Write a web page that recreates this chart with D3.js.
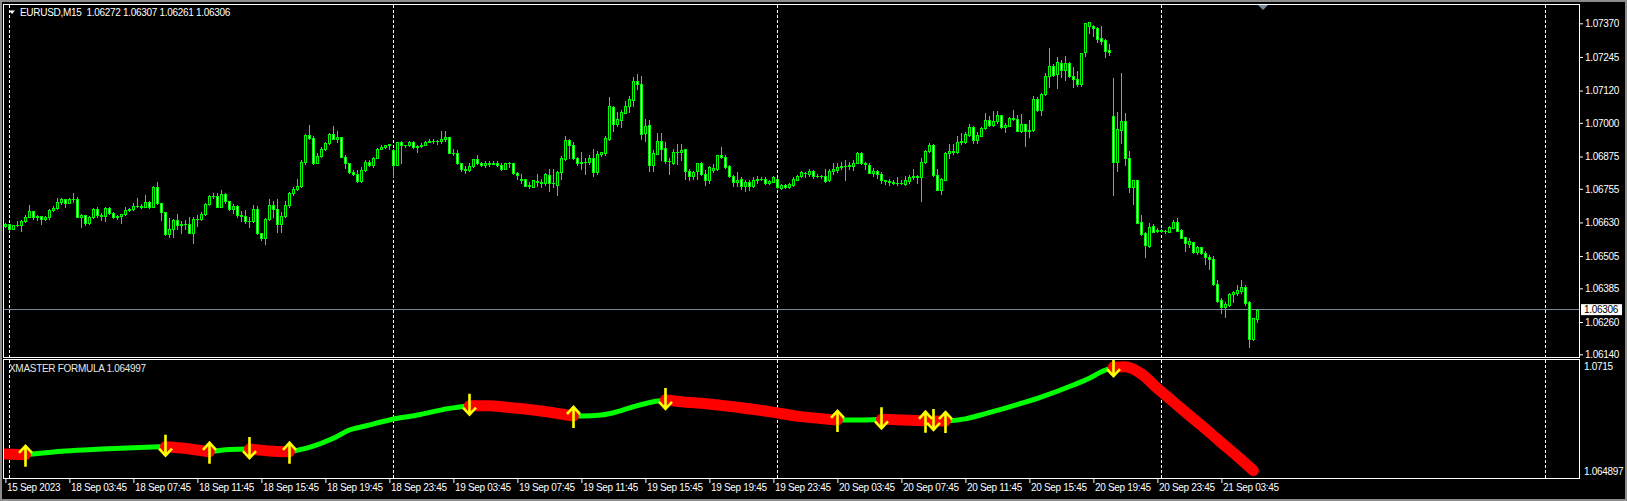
<!DOCTYPE html>
<html>
<head>
<meta charset="utf-8">
<script src="https://cdn.jsdelivr.net/npm/d3@7"></script>
<style>
  html, body { margin: 0; padding: 0; background: #000; overflow: hidden; }
  svg { display: block; }
  text { font-family: "Liberation Sans", Arial, sans-serif; font-size: 10px; letter-spacing: -0.3px; }
</style>
</head>
<body>
<div id="chart"></div>
<script>
// ---- data ----
const symbol = 'EURUSD,M15'
const base = 1.06 // candle values are pips above this level

const opens = [
  61.7, 62.4, 60.7, 61.9, 62.2, 63.4, 65.1, 67.1, 64.9, 65.3,
  64.2, 65.0, 67.5, 68.4, 70.6, 71.6, 70.4, 71.6, 71.6, 65.1,
  65.6, 62.7, 64.9, 68.1, 65.6, 65.5, 68.2, 66.6, 64.9, 65.3,
  66.0, 67.5, 68.0, 69.1, 69.2, 68.9, 70.5, 68.9, 76.0, 70.1,
  66.7, 58.6, 60.4, 63.9, 62.2, 62.4, 62.4, 59.2, 64.2, 64.3,
  66.1, 69.9, 72.7, 72.8, 68.9, 73.4, 70.8, 68.1, 69.2, 65.6,
  65.3, 63.4, 63.7, 67.9, 59.0, 57.2, 64.2, 69.4, 68.1, 62.4,
  65.4, 69.4, 73.8, 75.4, 76.4, 85.3, 95.4, 94.4, 85.0, 87.7,
  90.2, 92.6, 95.9, 94.1, 94.6, 87.4, 85.0, 81.9, 80.9, 78.5,
  82.5, 85.5, 84.2, 86.8, 90.3, 90.9, 91.6, 89.9, 84.5, 92.8,
  91.6, 91.6, 93.0, 90.9, 91.5, 91.9, 93.0, 93.4, 93.1, 93.4,
  94.1, 94.6, 88.9, 88.7, 85.0, 82.7, 82.5, 84.0, 86.4, 85.2,
  84.5, 85.2, 84.7, 85.2, 84.5, 82.7, 85.0, 85.0, 81.2, 78.7,
  79.1, 76.7, 76.3, 78.3, 77.9, 77.6, 80.8, 77.6, 77.0, 81.6,
  86.5, 93.7, 91.6, 86.9, 85.2, 85.6, 85.4, 86.8, 81.6, 88.6,
  88.8, 93.9, 106.0, 99.6, 101.1, 103.8, 106.1, 108.5, 115.4, 114.4,
  96.2, 99.3, 84.3, 88.6, 93.3, 90.7, 86.0, 85.2, 89.1, 89.3,
  90.3, 82.2, 80.1, 82.2, 85.0, 81.0, 78.8, 82.4, 82.8, 88.0,
  87.5, 84.0, 80.4, 78.2, 79.2, 76.4, 77.9, 76.5, 78.7, 79.1,
  79.2, 77.6, 78.2, 79.2, 75.9, 77.0, 76.0, 77.0, 78.8, 80.1,
  81.5, 80.9, 82.0, 80.2, 80.4, 80.1, 78.6, 82.2, 82.4, 83.7,
  84.1, 84.0, 84.0, 85.2, 88.8, 85.2, 84.5, 81.5, 82.2, 81.1,
  78.6, 78.5, 78.1, 77.8, 77.6, 77.3, 78.3, 79.9, 80.1, 79.9,
  85.5, 89.5, 91.9, 80.5, 75.2, 78.8, 88.8, 89.7, 89.2, 92.9,
  92.9, 95.6, 98.4, 93.7, 95.2, 98.0, 101.0, 99.3, 100.6, 102.9,
  98.3, 99.0, 101.9, 101.4, 96.9, 99.6, 97.1, 97.3, 109.0, 104.8,
  110.6, 117.4, 121.3, 118.0, 122.1, 119.6, 122.4, 117.4, 116.2, 114.4,
  126.2, 136.1, 136.0, 135.4, 131.4, 130.8, 127.1, 102.6, 85.6, 97.4,
  100.7, 86.8, 76.3, 78.8, 63.0, 59.2, 54.2, 61.7, 59.8, 60.2,
  59.9, 59.6, 61.1, 63.3, 60.2, 57.5, 54.9, 55.6, 52.1, 53.7,
  51.5, 50.3, 49.3, 40.1, 34.2, 31.4, 32.3, 36.4, 36.7, 37.6,
  39.1, 33.4, 19.7, 27.2
]
const highs = [
  62.9, 62.4, 62.2, 63.5, 63.9, 65.6, 69.5, 67.4, 65.8, 65.4,
  65.5, 67.9, 69.2, 72.0, 72.1, 71.8, 72.2, 74.0, 72.3, 66.3,
  65.8, 65.4, 68.4, 68.7, 66.5, 68.6, 68.6, 66.9, 65.9, 66.3,
  68.7, 68.5, 70.2, 72.0, 69.7, 73.2, 71.0, 76.4, 78.0, 70.3,
  67.0, 64.5, 64.3, 66.1, 63.7, 63.9, 64.9, 65.1, 65.9, 66.9,
  70.4, 73.2, 74.1, 73.8, 74.9, 73.8, 71.1, 69.9, 69.5, 67.4,
  67.6, 64.9, 69.5, 69.1, 59.2, 64.5, 71.6, 71.1, 71.6, 67.0,
  71.1, 74.4, 76.0, 79.0, 86.1, 95.9, 99.3, 95.1, 88.7, 91.2,
  92.9, 96.2, 98.8, 97.0, 94.8, 88.0, 85.2, 82.5, 82.5, 83.7,
  86.2, 86.2, 87.2, 90.7, 91.9, 91.9, 92.1, 90.2, 93.0, 93.4,
  91.9, 93.3, 93.1, 91.9, 92.6, 93.3, 94.1, 94.1, 93.6, 96.9,
  96.9, 94.8, 90.2, 90.0, 85.2, 84.0, 85.0, 86.7, 88.1, 85.6,
  85.7, 85.7, 86.0, 85.8, 85.0, 85.2, 85.5, 85.2, 81.7, 81.1,
  79.3, 77.9, 78.8, 80.9, 79.2, 81.4, 82.7, 83.0, 82.2, 87.8,
  95.0, 93.9, 92.9, 87.5, 89.1, 86.8, 88.2, 90.3, 89.5, 89.3,
  95.2, 109.5, 106.1, 103.9, 104.8, 108.0, 109.9, 117.2, 118.2, 117.6,
  101.6, 101.2, 90.1, 96.1, 96.1, 92.9, 87.1, 90.3, 92.3, 92.3,
  90.3, 82.7, 82.0, 85.2, 85.5, 82.4, 84.0, 84.7, 88.2, 91.1,
  88.2, 84.2, 80.8, 81.8, 79.9, 78.8, 78.6, 79.9, 80.1, 79.9,
  79.9, 78.7, 80.1, 79.5, 77.3, 77.3, 77.6, 79.9, 80.5, 82.0,
  81.6, 82.7, 82.4, 81.1, 80.8, 82.7, 82.7, 85.0, 85.2, 85.4,
  86.3, 85.6, 86.3, 89.1, 89.1, 85.4, 85.0, 83.1, 82.4, 81.8,
  78.8, 79.2, 78.6, 79.9, 78.6, 80.4, 80.8, 82.9, 80.5, 86.9,
  89.8, 92.6, 92.3, 83.0, 79.5, 89.1, 92.3, 92.3, 95.0, 96.2,
  96.5, 99.6, 98.7, 96.5, 98.4, 103.5, 102.5, 104.4, 104.4, 103.1,
  99.8, 102.1, 104.8, 103.1, 103.4, 99.7, 101.0, 109.9, 109.5, 111.0,
  118.7, 127.9, 121.7, 124.6, 123.4, 125.0, 122.7, 120.9, 119.3, 126.1,
  137.0, 137.6, 136.4, 135.6, 136.0, 131.0, 129.3, 116.7, 104.2, 118.7,
  103.8, 89.7, 78.8, 78.8, 65.8, 59.6, 62.9, 62.4, 60.8, 60.4,
  60.2, 61.5, 63.9, 64.5, 60.4, 57.7, 57.1, 55.9, 54.2, 54.0,
  52.5, 50.8, 50.5, 41.6, 34.8, 33.6, 36.9, 37.5, 39.8, 41.6,
  39.8, 33.8, 27.6, 30.7
]
const lows = [
  61.2, 60.2, 60.5, 61.7, 59.9, 63.2, 64.9, 64.3, 63.9, 62.5,
  64.0, 64.3, 67.2, 67.9, 69.8, 68.9, 70.4, 70.6, 64.9, 61.2,
  62.2, 62.3, 64.6, 64.9, 63.9, 63.7, 66.1, 64.6, 64.2, 62.9,
  65.8, 67.4, 67.6, 68.6, 68.2, 68.9, 68.5, 68.9, 69.7, 63.9,
  58.3, 57.7, 57.7, 60.6, 59.2, 60.4, 59.0, 55.5, 61.8, 63.9,
  65.8, 69.5, 72.0, 68.6, 68.9, 70.4, 67.6, 66.4, 65.1, 63.7,
  62.7, 61.4, 63.3, 58.7, 56.5, 54.9, 63.9, 65.1, 59.6, 59.6,
  65.1, 68.9, 73.2, 75.1, 76.0, 84.7, 93.9, 84.7, 85.0, 87.4,
  90.0, 92.0, 93.9, 92.9, 87.2, 83.1, 81.2, 80.5, 78.1, 78.1,
  82.2, 83.9, 83.5, 86.8, 90.2, 90.8, 90.4, 80.0, 84.2, 85.0,
  91.2, 91.4, 90.7, 89.0, 90.9, 91.6, 92.9, 92.4, 92.0, 92.4,
  93.1, 88.7, 88.2, 84.7, 82.2, 81.2, 82.1, 83.6, 84.7, 84.0,
  83.5, 84.0, 84.6, 84.0, 82.5, 82.7, 83.5, 80.9, 79.0, 77.6,
  76.4, 75.8, 76.0, 76.7, 76.3, 77.0, 74.7, 76.0, 73.2, 79.2,
  86.3, 86.9, 86.5, 84.5, 82.7, 81.1, 84.7, 80.1, 81.1, 87.8,
  88.2, 93.7, 97.1, 98.8, 98.4, 103.5, 103.9, 106.1, 112.5, 93.9,
  93.3, 82.2, 82.0, 88.3, 86.3, 85.0, 81.1, 84.7, 84.7, 86.3,
  79.0, 78.8, 79.0, 79.2, 80.5, 77.0, 77.7, 81.8, 82.4, 86.9,
  83.4, 79.9, 76.7, 76.5, 75.4, 74.7, 75.0, 76.0, 77.8, 78.6,
  77.3, 77.4, 77.9, 75.8, 75.4, 75.8, 75.8, 76.5, 78.6, 79.9,
  79.9, 80.4, 79.6, 79.9, 79.6, 78.1, 78.3, 81.1, 81.8, 82.7,
  78.8, 82.7, 82.4, 85.0, 84.7, 82.7, 81.4, 80.1, 79.6, 77.8,
  77.3, 77.0, 77.3, 77.0, 77.3, 77.0, 77.8, 79.2, 77.6, 70.9,
  85.0, 89.1, 80.1, 75.0, 73.5, 78.6, 86.9, 88.6, 88.8, 92.0,
  92.6, 95.2, 92.6, 92.4, 95.0, 97.8, 98.8, 98.8, 100.0, 98.0,
  96.5, 98.8, 101.0, 96.9, 96.5, 91.4, 94.6, 96.9, 104.4, 102.9,
  110.4, 113.5, 117.5, 113.1, 117.2, 115.9, 117.0, 113.5, 113.7, 113.8,
  125.0, 133.3, 132.4, 130.2, 129.3, 124.6, 125.2, 73.2, 82.2, 92.4,
  84.3, 74.4, 69.9, 62.7, 58.3, 50.3, 54.0, 59.3, 59.6, 59.6,
  59.2, 59.3, 60.9, 59.8, 57.1, 52.5, 53.8, 51.5, 51.3, 51.3,
  47.6, 45.6, 39.8, 33.6, 29.5, 27.7, 32.0, 33.6, 36.0, 36.6,
  32.3, 16.6, 19.4, 26.1
]
const closes = [
  62.4, 60.7, 61.9, 62.2, 63.4, 65.1, 67.1, 64.9, 65.3, 64.2,
  65.0, 67.5, 68.4, 70.6, 71.6, 70.4, 71.6, 71.6, 65.1, 65.6,
  62.7, 64.9, 68.1, 65.6, 65.5, 68.2, 66.6, 64.9, 65.3, 66.0,
  67.5, 68.0, 69.1, 69.2, 68.9, 70.5, 68.9, 76.0, 70.1, 66.7,
  58.6, 60.4, 63.9, 62.2, 62.4, 62.4, 59.2, 64.2, 64.3, 66.1,
  69.9, 72.7, 72.8, 68.9, 73.4, 70.8, 68.1, 69.2, 65.6, 65.3,
  63.4, 63.7, 67.9, 59.0, 57.2, 64.2, 69.4, 68.1, 62.4, 65.4,
  69.4, 73.8, 75.4, 76.4, 85.3, 95.4, 94.4, 85.0, 87.7, 90.2,
  92.6, 95.9, 94.1, 94.6, 87.4, 85.0, 81.9, 80.9, 78.5, 82.5,
  85.5, 84.2, 86.8, 90.3, 90.9, 91.6, 92.0, 84.3, 92.8, 91.6,
  91.6, 93.0, 90.9, 91.5, 91.9, 93.0, 93.4, 93.1, 93.4, 94.1,
  94.6, 88.9, 88.7, 85.0, 82.7, 82.5, 84.0, 86.4, 85.2, 84.5,
  85.2, 84.7, 85.2, 84.5, 82.7, 85.0, 85.0, 81.2, 80.7, 79.0,
  76.7, 76.9, 78.6, 77.9, 77.7, 81.1, 77.6, 77.8, 81.8, 86.8,
  93.7, 91.6, 86.9, 85.0, 85.6, 85.4, 86.8, 81.6, 88.6, 89.0,
  94.2, 106.1, 99.7, 101.4, 104.2, 106.3, 108.8, 115.7, 114.4, 95.9,
  99.0, 84.3, 88.8, 93.3, 90.3, 86.0, 85.7, 89.1, 89.3, 89.8,
  82.0, 80.1, 81.6, 85.0, 80.9, 78.8, 83.7, 83.4, 87.9, 87.3,
  83.7, 80.1, 78.2, 78.8, 76.4, 77.9, 76.7, 78.7, 79.1, 79.3,
  77.6, 78.5, 79.9, 76.0, 77.0, 76.0, 77.3, 79.2, 80.2, 81.6,
  81.3, 82.3, 80.1, 80.4, 80.1, 78.3, 82.2, 82.7, 83.7, 84.1,
  84.0, 84.2, 85.2, 88.8, 85.2, 84.7, 81.5, 82.2, 81.1, 78.6,
  78.5, 78.2, 77.8, 77.6, 77.7, 78.6, 79.9, 80.1, 80.0, 85.6,
  89.5, 91.9, 80.5, 75.2, 79.2, 88.8, 89.7, 89.2, 92.9, 93.2,
  95.9, 98.4, 93.7, 95.5, 98.0, 101.0, 99.3, 100.8, 102.9, 98.3,
  99.2, 101.9, 101.5, 97.1, 99.6, 97.1, 97.4, 109.0, 104.8, 110.6,
  117.4, 121.1, 117.8, 122.5, 119.5, 122.4, 117.4, 116.2, 114.4, 126.1,
  137.0, 137.4, 135.4, 131.2, 130.5, 126.8, 126.5, 85.6, 97.6, 100.7,
  87.1, 76.3, 78.8, 62.9, 58.7, 54.6, 61.2, 59.6, 60.2, 59.9,
  59.8, 61.2, 63.3, 59.9, 57.3, 55.2, 56.2, 52.1, 54.0, 51.5,
  50.0, 49.3, 40.0, 33.9, 31.4, 32.7, 36.4, 37.3, 37.9, 39.1,
  33.2, 19.7, 27.4, 30.6
]

const priceTicks = [1.07370, 1.07245, 1.07120, 1.07000, 1.06875, 1.06755, 1.06630, 1.06505, 1.06385, 1.06260, 1.06140]
const timeLabels = [
  '15 Sep 2023', '18 Sep 03:45', '18 Sep 07:45', '18 Sep 11:45', '18 Sep 15:45', '18 Sep 19:45', '18 Sep 23:45',
  '19 Sep 03:45', '19 Sep 07:45', '19 Sep 11:45', '19 Sep 15:45', '19 Sep 19:45', '19 Sep 23:45',
  '20 Sep 03:45', '20 Sep 07:45', '20 Sep 11:45', '20 Sep 15:45', '20 Sep 19:45', '20 Sep 23:45', '21 Sep 03:45'
]
const dayStartBars = [1, 97, 193, 289, 385]   // bar index of each midnight

// XMASTER FORMULA indicator (subwindow)
const formulaName = 'XMASTER FORMULA'
const formulaCurrent = 1.064997
const formulaMax = 1.0715
const formulaMin = 1.064897
const formulaBars = [0, 5, 15, 24, 32, 40, 44, 51, 56, 61, 66, 71, 76, 82, 86, 90, 96, 103, 111, 116,
  121, 124, 132, 142, 144, 149, 153, 157, 162, 165, 169, 174, 182, 190, 199, 208, 211, 215, 219, 224,
  230, 232, 235, 240, 245, 250, 258, 267, 271, 274, 277, 280, 284, 288, 292, 296, 300, 304, 308, 312]
const formulaValues = [1.06601, 1.06596, 1.06620, 1.06632, 1.06641, 1.06647, 1.06639, 1.06615, 1.06630, 1.06632,
  1.06620, 1.06615, 1.06643, 1.06700, 1.06752, 1.06777, 1.06815, 1.06846, 1.06888, 1.06905,
  1.06905, 1.06898, 1.06878, 1.06840, 1.06840, 1.06846, 1.06867, 1.06898, 1.06930, 1.06941,
  1.06930, 1.06920, 1.06898, 1.06871, 1.06836, 1.06815, 1.06815, 1.06815, 1.06819, 1.06815,
  1.06810, 1.06809, 1.06808, 1.06822, 1.06855, 1.06890, 1.06951, 1.07035, 1.07077, 1.07118,
  1.07148, 1.07150, 1.07105, 1.07014, 1.06929, 1.06843, 1.06759, 1.06672, 1.06586, 1.06497]
const signalBars = [5, 40, 51, 61, 71, 116, 142, 165, 208, 219, 230, 232, 235, 277]
const signalDirs = ['up', 'down', 'up', 'down', 'up', 'down', 'up', 'down', 'up', 'down', 'up', 'down', 'up', 'down']

// ---- layout ----
const width = 1627, height = 501
const main = { left: 3, right: 1579, top: 4, bottom: 357 }
const sub = { top: 359, bottom: 478 }
const lime = '#00ff00'

const price = p => base + p / 10000

const x = d3.scaleLinear().domain([0, 385]).range([5.4, 1545.4])
const y = d3.scaleLinear().domain([1.0614, 1.0737]).range([354.3, 23.3])
const yf = d3.scaleLinear().domain([formulaMin, formulaMax]).range([471.7, 366.7])

const svg = d3.select('#chart')
  .append('svg')
  .attr('width', width)
  .attr('height', height)

svg.append('rect').attr('width', width).attr('height', height).attr('fill', '#000')

// window frame
svg.append('rect').attr('x', 0).attr('y', 0).attr('width', width).attr('height', 2).attr('fill', '#8c8c8c')
svg.append('rect').attr('x', 0).attr('y', 0).attr('width', 2).attr('height', height).attr('fill', '#8c8c8c')
svg.append('rect').attr('x', width - 2).attr('y', 0).attr('width', 2).attr('height', height).attr('fill', '#8c8c8c')
svg.append('rect').attr('x', 0).attr('y', height - 2).attr('width', width).attr('height', 2).attr('fill', '#8c8c8c')

const defs = svg.append('defs')
defs.append('clipPath').attr('id', 'clip-main').append('rect')
  .attr('x', main.left + 1).attr('y', main.top + 1)
  .attr('width', main.right - main.left - 1).attr('height', main.bottom - main.top - 1)
defs.append('clipPath').attr('id', 'clip-sub').append('rect')
  .attr('x', main.left + 1).attr('y', sub.top + 1)
  .attr('width', main.right - main.left - 1).attr('height', sub.bottom - sub.top - 1)

// day separators
const sepX = b => Math.floor(x(b)) + 0.5
;[[main.top, main.bottom], [sub.top, sub.bottom]].forEach(function(r) {
  svg.append('g').selectAll('line')
    .data(dayStartBars)
    .enter().append('line')
    .attr('x1', sepX).attr('x2', sepX)
    .attr('y1', r[0] + 1).attr('y2', r[1])
    .attr('stroke', '#fff')
    .attr('stroke-dasharray', '3,2')
})

// bid line
const bidY = Math.floor(y(price(closes[closes.length - 1]))) + 0.5
svg.append('line')
  .attr('x1', main.left).attr('x2', main.right)
  .attr('y1', bidY).attr('y2', bidY)
  .attr('stroke', '#778899')

// candles
const bars = d3.range(closes.length)
const candles = svg.append('g').attr('clip-path', 'url(#clip-main)')
const col = i => Math.floor(x(i))

candles.selectAll('.wick')
  .data(bars)
  .enter().append('line')
  .attr('class', 'wick')
  .attr('x1', i => col(i) + 0.5).attr('x2', i => col(i) + 0.5)
  .attr('y1', i => Math.round(y(price(Math.max(highs[i], opens[i], closes[i])))))
  .attr('y2', i => Math.round(y(price(Math.min(lows[i], opens[i], closes[i])))) + 1)
  .attr('stroke', lime)

candles.selectAll('.body')
  .data(bars)
  .enter().append('rect')
  .attr('class', 'body')
  .each(function(i) {
    const top = Math.round(y(price(Math.max(opens[i], closes[i]))))
    const bot = Math.round(y(price(Math.min(opens[i], closes[i]))))
    const el = d3.select(this)
    if (bot - top < 2) {
      el.attr('x', col(i) - 1).attr('y', top).attr('width', 3).attr('height', bot - top + 1)
        .attr('fill', lime)
    } else {
      el.attr('x', col(i) - 0.5).attr('y', top + 0.5).attr('width', 2).attr('height', bot - top)
        .attr('fill', closes[i] < opens[i] ? '#fff' : '#000')
        .attr('stroke', lime)
    }
  })

// chart shift marker
svg.append('path').attr('d', 'M1258,5 L1268,5 L1263,10 Z').attr('fill', '#778899')

// panel borders
svg.append('rect')
  .attr('x', main.left + 0.5).attr('y', main.top + 0.5)
  .attr('width', main.right - main.left).attr('height', main.bottom - main.top)
  .attr('fill', 'none').attr('stroke', '#fff')
svg.append('rect')
  .attr('x', main.left + 0.5).attr('y', sub.top + 0.5)
  .attr('width', main.right - main.left).attr('height', sub.bottom - sub.top)
  .attr('fill', 'none').attr('stroke', '#fff')

// ---- indicator ----
const knots = formulaBars.map((b, i) => ({ bar: b, v: formulaValues[i] }))
const lastBar = formulaBars[formulaBars.length - 1]
const bounds = [0].concat(signalBars, [lastBar])
const segments = []
for (let k = 0; k < bounds.length - 1; k++) {
  const dir = k === 0 ? 'down' : signalDirs[k - 1]
  segments.push({
    dir: dir,
    pts: knots.filter(d => d.bar >= bounds[k] && d.bar <= bounds[k + 1])
  })
}

const line = d3.line()
  .x(d => x(d.bar))
  .y(d => yf(d.v))
  .curve(d3.curveMonotoneX)

const ind = svg.append('g').attr('clip-path', 'url(#clip-sub)')
ind.selectAll('.up-seg')
  .data(segments.filter(s => s.dir === 'up'))
  .enter().append('path')
  .attr('d', s => line(s.pts))
  .attr('fill', 'none')
  .attr('stroke', lime)
  .attr('stroke-width', 5)
  .attr('stroke-linecap', 'round')
  .attr('stroke-linejoin', 'round')
ind.selectAll('.down-seg')
  .data(segments.filter(s => s.dir === 'down'))
  .enter().append('path')
  .attr('d', s => line(s.pts))
  .attr('fill', 'none')
  .attr('stroke', '#ff0000')
  .attr('stroke-width', 11)
  .attr('stroke-linecap', 'round')
  .attr('stroke-linejoin', 'round')

// signal arrows
const valueAt = b => knots.find(d => d.bar === b).v
ind.selectAll('.arrow')
  .data(signalBars.map((b, i) => ({ bar: b, dir: signalDirs[i] })))
  .enter().append('path')
  .attr('d', function(d) {
    const ax = Math.round(x(d.bar)) + 0.5
    const c = yf(valueAt(d.bar))
    const s = d.dir === 'up' ? 1 : -1
    const tip = c - 9 * s, tail = c + 12 * s, wing = c - 2 * s
    return 'M' + ax + ',' + tail + 'L' + ax + ',' + tip +
      'M' + (ax - 6.5) + ',' + wing + 'L' + ax + ',' + tip + 'L' + (ax + 6.5) + ',' + wing
  })
  .attr('fill', 'none')
  .attr('stroke', '#ffff00')
  .attr('stroke-width', 2.6)

// ---- texts and axes ----
svg.append('path').attr('d', 'M9,10.5 L15,10.5 L12,14 Z').attr('fill', '#fff')
const last = closes.length - 1
const fmt5 = d3.format('.5f')
svg.append('text')
  .attr('x', 20).attr('y', 16)
  .style('white-space', 'pre')
  .attr('fill', '#fff')
  .text(symbol + '  ' + [opens[last], highs[last], lows[last], closes[last]].map(p => fmt5(price(p))).join(' '))

svg.append('text')
  .attr('x', 9).attr('y', 372)
  .attr('fill', '#e6e6e6')
  .text(formulaName + ' ' + formulaCurrent)

const priceAxis = d3.axisRight(y)
  .tickValues(priceTicks)
  .tickSize(3)
  .tickFormat(fmt5)
svg.append('g')
  .attr('transform', 'translate(' + (main.right + 1) + ',0)')
  .call(priceAxis)
  .call(g => g.select('.domain').remove())
  .call(g => g.selectAll('line').attr('stroke', '#fff'))
  .call(g => g.selectAll('text').attr('fill', '#fff').attr('x', 5)
    .style('font-family', '"Liberation Sans", Arial, sans-serif').style('font-size', '10px'))

// current price box
const bid = price(closes[last])
svg.append('rect')
  .attr('x', 1581).attr('y', y(bid) - 5.5)
  .attr('width', 41).attr('height', 11)
  .attr('fill', '#fff')
svg.append('text')
  .attr('x', 1584).attr('y', y(bid)).attr('dy', '0.35em')
  .attr('fill', '#000')
  .text(fmt5(bid))

// indicator scale labels
svg.append('g').selectAll('text')
  .data([formulaMax, formulaMin])
  .enter().append('text')
  .attr('x', 1584)
  .attr('y', d => yf(d)).attr('dy', '0.35em')
  .attr('fill', '#fff')
  .text(d => String(d))

const timeAxis = d3.axisBottom(x)
  .tickValues(d3.range(0, closes.length, 16))
  .tickFormat((d, i) => timeLabels[i])
  .tickSize(4)
svg.append('g')
  .attr('transform', 'translate(0,' + (sub.bottom + 1) + ')')
  .call(timeAxis)
  .call(g => g.select('.domain').remove())
  .call(g => g.selectAll('line').attr('stroke', '#fff'))
  .call(g => g.selectAll('text').attr('fill', '#fff')
    .attr('text-anchor', 'start').attr('x', 1).attr('y', 5)
    .style('font-family', '"Liberation Sans", Arial, sans-serif').style('font-size', '10px'))
</script>
</body>
</html>
